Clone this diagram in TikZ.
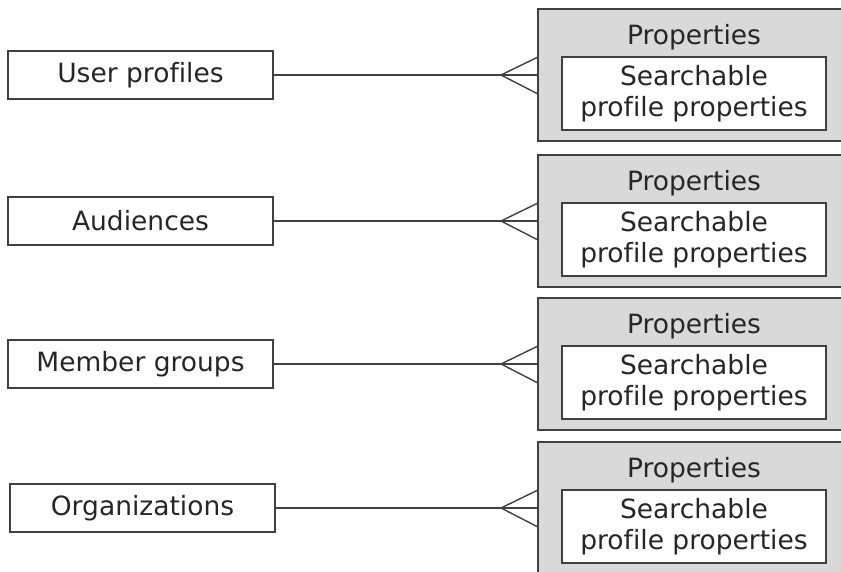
\documentclass[tikz,border=0pt]{standalone}
\usepackage{fontspec}
\setmainfont[Ligatures={NoCommon}]{DejaVu Sans}
\usetikzlibrary{calc}
\definecolor{linec}{HTML}{404040}
\definecolor{fillc}{HTML}{D9D9D9}
\definecolor{textc}{HTML}{262626}
\begin{document}
\begin{tikzpicture}[x=1pt,y=-1pt,
  every node/.style={inner sep=0pt, outer sep=0pt, text=textc, font=\fontsize{26.5}{30.5}\selectfont},
  entbox/.style={draw=linec, line width=1.4pt, fill=white, minimum width=265pt, minimum height=48pt, anchor=west},
  groupbox/.style={draw=linec, line width=1.4pt, fill=fillc, minimum width=312pt, minimum height=132pt, anchor=north west},
  innerbox/.style={draw=linec, line width=1.4pt, fill=white, minimum width=264pt, minimum height=73pt, align=center, anchor=north west},
  conn/.style={draw=linec, line width=1.4pt}
]
\useasboundingbox (0,0) rectangle (841,571);
\clip (0,0) rectangle (841,571);
\foreach \i/\top/\lx/\name in {1/9/8/User profiles, 2/155/8/Audiences, 3/298/8/Member groups, 4/442/10/Organizations}{
  \node[groupbox] (g\i) at (538,\top) {};
  \node[anchor=base] (p\i) at (694,\top+35) {Properties};
  \node[innerbox] (s\i) at (562,\top+48) {Searchable\\profile properties};
  \node[entbox] (e\i) at (\lx,\top+66) {\name};
  \coordinate (a\i) at ($(g\i.west)+(-37,0)$);
  \draw[conn] (e\i.east) -- (g\i.west);
  \draw[conn] ($(g\i.west)+(0,-18)$) -- (a\i) -- ($(g\i.west)+(0,19)$);
}
\end{tikzpicture}
\end{document}
